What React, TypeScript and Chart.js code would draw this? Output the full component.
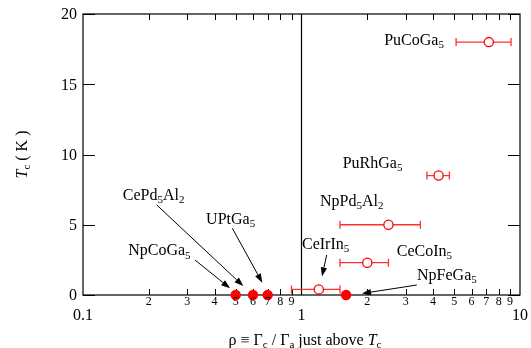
import React, { useEffect, useRef } from "react";
import { Chart, registerables } from "chart.js";

Chart.register(...registerables);

// ---- data ----
const filledX = [0.5, 0.6, 0.7, 1.6];
const filledY = [0, 0, 0, 0];

const openNames = ["PuCoGa5", "PuRhGa5", "NpPd5Al2", "CeCoIn5", "CeIrIn5"];
const openX = [7.2, 4.24, 2.5, 2.0, 1.2];
const openY = [18, 8.5, 5, 2.3, 0.4];
const openXLow = [5.1, 3.75, 1.5, 1.5, 0.9];
const openXHigh = [9.1, 4.75, 3.5, 2.5, 1.5];

const xMajorTicks = [0.1, 1, 10];
const xMajorLabels = ["0.1", "1", "10"];
const xMinorTicks = [0.2, 0.3, 0.4, 0.5, 0.6, 0.7, 0.8, 0.9, 2, 3, 4, 5, 6, 7, 8, 9];
const xMinorLabels = ["2", "3", "4", "5", "6", "7", "8", "9", "2", "3", "4", "5", "6", "7", "8", "9"];
const yTicks = [0, 5, 10, 15, 20];
const yTickLabels = ["0", "5", "10", "15", "20"];

const xTitle = "ρ ≡ Γ_c / Γ_a just above $T$_c";
const yTitle = "$T$_c ( K )";

// annotation labels (left edge x, vertical centre y), in data units
const labelTexts = ["PuCoGa_5", "PuRhGa_5", "NpPd_5Al_2", "CeIrIn_5", "CeCoIn_5", "NpFeGa_5", "CePd_5Al_2", "UPtGa_5", "NpCoGa_5"];
const labelX = [2.39, 1.544, 1.215, 1.005, 2.73, 3.38, 0.152, 0.366, 0.161];
const labelY = [18.15, 9.42, 6.71, 3.63, 3.15, 1.47, 7.12, 5.46, 3.2];

// arrows (from -> tip), in data units
const arrowFromX = [0.3255, 0.2174, 0.4824, 1.304, 3.37];
const arrowFromY = [2.49, 6.41, 4.75, 2.85, 0.71];
const arrowToX = [0.471, 0.5414, 0.6616, 1.241, 1.892];
const arrowToY = [0.477, 0.64, 0.875, 1.32, 0.107];

const FONT = '"Liberation Serif", "DejaVu Serif", serif';

type Seg = { t: string; sub: boolean; italic: boolean };

function parseRich(text: string): Seg[] {
  const segs: Seg[] = [];
  let italic = false;
  let i = 0;
  while (i < text.length) {
    const c = text[i];
    if (c === "$") {
      italic = !italic;
      i++;
      continue;
    }
    if (c === "_") {
      segs.push({ t: text[i + 1], sub: true, italic: false });
      i += 2;
      continue;
    }
    const last = segs[segs.length - 1];
    if (last && !last.sub && last.italic === italic) last.t += c;
    else segs.push({ t: c, sub: false, italic });
    i++;
  }
  return segs;
}

function drawRich(
  ctx: CanvasRenderingContext2D,
  text: string,
  x: number,
  y: number,
  size: number,
  align: "left" | "center" | "right"
) {
  const segs = parseRich(text);
  const fontOf = (s: Seg) => `${s.italic ? "italic " : ""}${s.sub ? Math.round(size * 0.7) : size}px ${FONT}`;
  const widths = segs.map((s) => {
    ctx.font = fontOf(s);
    return ctx.measureText(s.t).width;
  });
  const total = widths.reduce((a, b) => a + b, 0);
  let cx = align === "left" ? x : align === "center" ? x - total / 2 : x - total;
  const base = y + size * 0.33;
  ctx.textAlign = "left";
  ctx.textBaseline = "alphabetic";
  segs.forEach((s, k) => {
    ctx.font = fontOf(s);
    ctx.fillText(s.t, cx, s.sub ? base + size * 0.2 : base);
    cx += widths[k];
  });
}

const decorPlugin = {
  id: "decor",
  beforeDatasetsDraw(chart: any) {
    const { ctx, chartArea: a, scales } = chart;
    const xs = scales.x;
    const ys = scales.y;
    ctx.save();
    ctx.strokeStyle = "#000";
    ctx.lineWidth = 1.2;
    ctx.strokeRect(a.left, a.top, a.right - a.left, a.bottom - a.top);
    // vertical line at x = 1
    const x1 = xs.getPixelForValue(1);
    ctx.beginPath();
    ctx.moveTo(x1, a.top);
    ctx.lineTo(x1, a.bottom);
    ctx.stroke();
    // x minor ticks (inward, bottom and top)
    ctx.lineWidth = 1;
    xMinorTicks.forEach((v) => {
      const px = Math.round(xs.getPixelForValue(v)) + 0.5;
      ctx.beginPath();
      ctx.moveTo(px, a.bottom);
      ctx.lineTo(px, a.bottom - 6);
      ctx.moveTo(px, a.top);
      ctx.lineTo(px, a.top + 6);
      ctx.stroke();
    });
    // y major ticks (inward, left and right)
    yTicks.forEach((v) => {
      const py = Math.round(ys.getPixelForValue(v)) + 0.5;
      ctx.beginPath();
      ctx.moveTo(a.left, py);
      ctx.lineTo(a.left + 12, py);
      ctx.moveTo(a.right, py);
      ctx.lineTo(a.right - 12, py);
      ctx.stroke();
    });
    // error bars
    ctx.strokeStyle = "#ff3030";
    ctx.lineWidth = 1.3;
    openX.forEach((_, i) => {
      const py = ys.getPixelForValue(openY[i]);
      const l = xs.getPixelForValue(openXLow[i]);
      const r = xs.getPixelForValue(openXHigh[i]);
      ctx.beginPath();
      ctx.moveTo(l, py);
      ctx.lineTo(r, py);
      ctx.moveTo(l, py - 4);
      ctx.lineTo(l, py + 4);
      ctx.moveTo(r, py - 4);
      ctx.lineTo(r, py + 4);
      ctx.stroke();
    });
    ctx.restore();
  },
  afterDatasetsDraw(chart: any) {
    const { ctx, chartArea: a, scales } = chart;
    const xs = scales.x;
    const ys = scales.y;
    ctx.save();
    ctx.fillStyle = "#000";
    // tick labels
    xMajorTicks.forEach((v, i) => {
      drawRich(ctx, xMajorLabels[i], xs.getPixelForValue(v), a.bottom + 19.5, 16, "center");
    });
    xMinorTicks.forEach((v, i) => {
      drawRich(ctx, xMinorLabels[i], xs.getPixelForValue(v), a.bottom + 6.5, 12, "center");
    });
    yTicks.forEach((v, i) => {
      drawRich(ctx, yTickLabels[i], a.left - 6, ys.getPixelForValue(v), 16, "right");
    });
    // axis titles
    drawRich(ctx, xTitle, (a.left + a.right) / 2 + 3.5, a.bottom + 45, 16, "center");
    ctx.save();
    ctx.translate(22, (a.top + a.bottom) / 2);
    ctx.rotate(-Math.PI / 2);
    drawRich(ctx, yTitle, 0, 0, 16, "center");
    ctx.restore();
    // annotation labels
    labelTexts.forEach((t, i) => {
      drawRich(ctx, t, xs.getPixelForValue(labelX[i]), ys.getPixelForValue(labelY[i]), 16, "left");
    });
    // arrows
    ctx.strokeStyle = "#000";
    ctx.lineWidth = 1;
    arrowFromX.forEach((_, i) => {
      const x0 = xs.getPixelForValue(arrowFromX[i]);
      const y0 = ys.getPixelForValue(arrowFromY[i]);
      const x2 = xs.getPixelForValue(arrowToX[i]);
      const y2 = ys.getPixelForValue(arrowToY[i]);
      const ang = Math.atan2(y2 - y0, x2 - x0);
      const len = 9;
      const hw = 3.2;
      const bx = x2 - len * Math.cos(ang);
      const by = y2 - len * Math.sin(ang);
      ctx.beginPath();
      ctx.moveTo(x0, y0);
      ctx.lineTo(bx, by);
      ctx.stroke();
      ctx.beginPath();
      ctx.moveTo(x2, y2);
      ctx.lineTo(bx + hw * Math.sin(ang), by - hw * Math.cos(ang));
      ctx.lineTo(bx - hw * Math.sin(ang), by + hw * Math.cos(ang));
      ctx.closePath();
      ctx.fill();
    });
    ctx.restore();
  },
};

export default function App() {
  const ref = useRef<HTMLCanvasElement | null>(null);
  useEffect(() => {
    document.body.style.margin = "0";
    if (!ref.current) return;
    const chart = new Chart(ref.current, {
      type: "scatter",
      data: {
        datasets: [
          {
            label: "open",
            data: openX.map((x, i) => ({ x, y: openY[i], name: openNames[i] })),
            pointRadius: 4.6,
            pointBackgroundColor: "#ffffff",
            pointBorderColor: "#ff0000",
            pointBorderWidth: 1.3,
            clip: false as any,
          },
          {
            label: "filled",
            data: filledX.map((x, i) => ({ x, y: filledY[i] })),
            pointRadius: 5.2,
            pointBackgroundColor: "#ff0000",
            pointBorderColor: "#ff0000",
            pointBorderWidth: 0,
            clip: false as any,
          },
        ],
      },
      options: {
        animation: false,
        responsive: false,
        events: [],
        layout: { padding: { left: 83, right: 11, top: 14, bottom: 53 } },
        plugins: { legend: { display: false }, tooltip: { enabled: false } },
        scales: {
          x: { type: "logarithmic", min: 0.1, max: 10, display: false },
          y: { type: "linear", min: 0, max: 20, display: false },
        },
      },
      plugins: [decorPlugin],
    });
    return () => chart.destroy();
  }, []);
  return <canvas ref={ref} width={531} height={348} style={{ display: "block" }} />;
}
